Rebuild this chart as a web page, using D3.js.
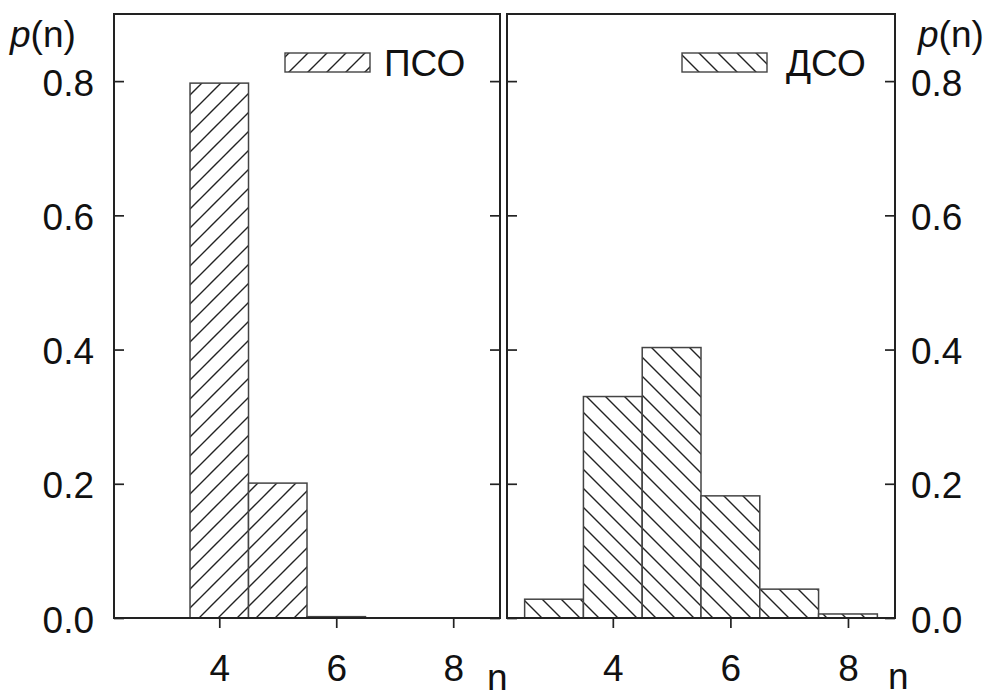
<!DOCTYPE html>
<html>
<head>
<meta charset="utf-8">
<script src="https://cdn.jsdelivr.net/npm/d3@7"></script>
<style>
  html, body { margin: 0; padding: 0; background: #fff; }
  svg { display: block; }
  text { font-family: "Liberation Sans", Arial, sans-serif; fill: #111; }
</style>
</head>
<body>
<svg id="chart" width="991" height="698"></svg>
<script>
// Distribution of the number n for the two cases
const nValues = [3, 4, 5, 6, 7, 8];
const psoProb = [0, 0.797, 0.201, 0.002, 0, 0];
const dsoProb = [0.028, 0.330, 0.403, 0.182, 0.043, 0.006];
const seriesNames = ["ПСО", "ДСО"];
const yTicks = [0.0, 0.2, 0.4, 0.6, 0.8];
const xTicks = [4, 6, 8];

const FONT = 37;
const INK = "#222";

const svg = d3.select("#chart");
const defs = svg.append("defs");

// hatch patterns: forward and backward diagonals
function hatch(id, forward) {
  const s = 19;
  const p = defs.append("pattern")
    .attr("id", id).attr("patternUnits", "userSpaceOnUse")
    .attr("width", s).attr("height", s);
  p.append("rect").attr("width", s).attr("height", s).attr("fill", "#fff");
  const d = forward
    ? `M0,${s} L${s},0 M-5,5 L5,-5 M${s - 5},${s + 5} L${s + 5},${s - 5}`
    : `M0,0 L${s},${s} M-5,${s - 5} L5,${s + 5} M${s - 5},-5 L${s + 5},5`;
  p.append("path").attr("d", d).attr("stroke", "#222")
    .attr("stroke-width", 1.4).attr("fill", "none");
}
hatch("hatchFwd", true);
hatch("hatchBack", false);

const y = d3.scaleLinear().domain([0, 0.9]).range([618, 14]);

const panels = [
  { name: seriesNames[0], values: psoProb, fill: "url(#hatchFwd)",
    range: [114, 500], legendX: 285, textX: 384, labelSide: "left" },
  { name: seriesNames[1], values: dsoProb, fill: "url(#hatchBack)",
    range: [507, 895], legendX: 682, textX: 786, labelSide: "right" }
];

panels.forEach(p => {
  const x = d3.scaleLinear().domain([2.2, 8.8]).range(p.range);
  const g = svg.append("g");
  const data = nValues.map((n, i) => ({ n, v: p.values[i] })).filter(d => d.v > 0);

  // bars
  g.selectAll("rect.bar").data(data).join("rect")
    .attr("class", "bar")
    .attr("x", d => x(d.n - 0.5))
    .attr("width", d => x(d.n + 0.5) - x(d.n - 0.5))
    .attr("y", d => y(d.v))
    .attr("height", d => y(0) - y(d.v))
    .attr("fill", p.fill)
    .attr("stroke", "#444").attr("stroke-width", 1.5);

  // x axis: outward ticks at bottom
  const xAxis = g.append("g").attr("transform", `translate(0,${y(0)})`)
    .call(d3.axisBottom(x).tickValues(xTicks).tickSize(10).tickSizeOuter(0)
      .tickFormat(d3.format("d")));
  xAxis.select(".domain").remove();
  xAxis.selectAll("line").attr("stroke", INK).attr("stroke-width", 1.7);
  xAxis.selectAll("text")
    .attr("font-size", FONT).attr("fill", "#111")
    .attr("dy", null).attr("y", 63);

  // y ticks on both edges, pointing inward
  const left = g.append("g").attr("transform", `translate(${p.range[0]},0)`)
    .call(d3.axisLeft(y).tickValues(yTicks).tickSize(-10).tickSizeOuter(0)
      .tickFormat(d3.format(".1f")));
  const right = g.append("g").attr("transform", `translate(${p.range[1]},0)`)
    .call(d3.axisRight(y).tickValues(yTicks).tickSize(-10).tickSizeOuter(0)
      .tickFormat(d3.format(".1f")));
  [left, right].forEach(a => {
    a.select(".domain").remove();
    a.selectAll("line").attr("stroke", INK).attr("stroke-width", 1.7);
  });
  if (p.labelSide === "left") {
    right.selectAll("text").remove();
    left.selectAll("text")
      .attr("font-size", FONT).attr("fill", "#111")
      .attr("x", -20).attr("dy", null).attr("y", 14);
  } else {
    left.selectAll("text").remove();
    right.selectAll("text")
      .attr("font-size", FONT).attr("fill", "#111")
      .attr("x", 16).attr("dy", null).attr("y", 14);
  }

  // frame
  g.append("rect")
    .attr("x", p.range[0]).attr("y", y(0.9))
    .attr("width", p.range[1] - p.range[0]).attr("height", y(0) - y(0.9))
    .attr("fill", "none").attr("stroke", INK).attr("stroke-width", 2);

  // legend
  g.append("rect")
    .attr("x", p.legendX).attr("y", 53).attr("width", 85).attr("height", 19)
    .attr("fill", p.fill).attr("stroke", "#444").attr("stroke-width", 1.4);
  g.append("text")
    .attr("x", p.textX).attr("y", 75.5)
    .attr("font-size", FONT).text(p.name);
});

// axis titles
function pn(xPos) {
  const t = svg.append("text")
    .attr("x", xPos).attr("y", 47)
    .attr("font-size", FONT);
  t.append("tspan").attr("font-style", "italic").text("p");
  t.append("tspan").text("(n)");
}
pn(10);
pn(918);

svg.append("text").attr("x", 487).attr("y", 690)
  .attr("font-size", FONT).text("n");
svg.append("text").attr("x", 888).attr("y", 689)
  .attr("font-size", FONT).text("n");
</script>
</body>
</html>
